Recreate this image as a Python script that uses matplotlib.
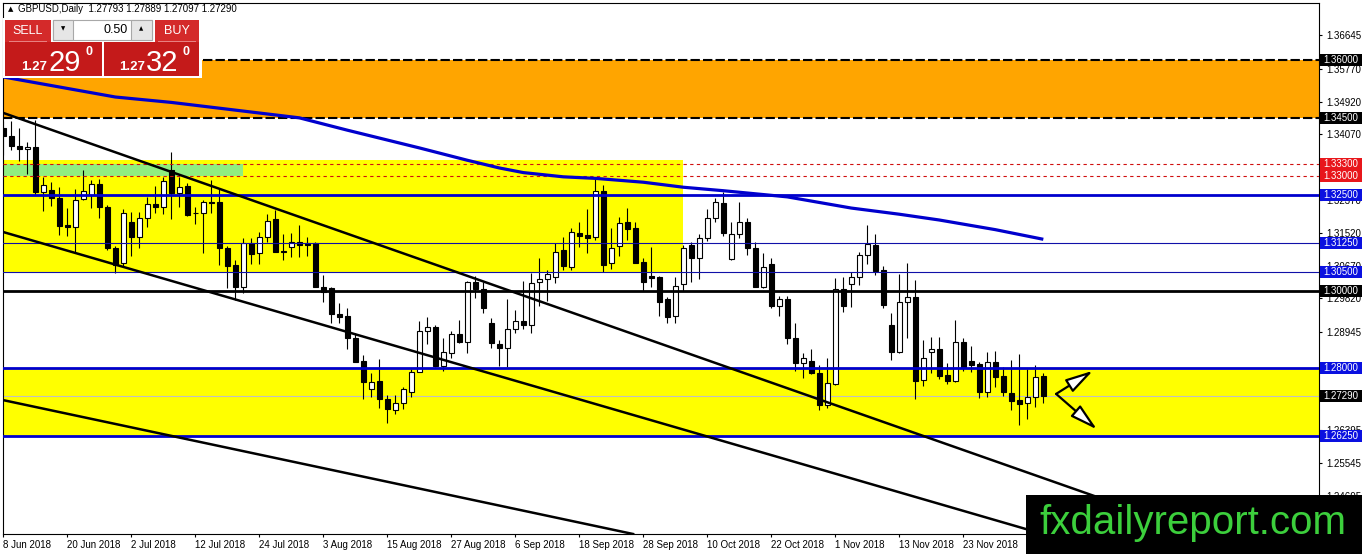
import matplotlib
matplotlib.use("Agg")
import matplotlib.pyplot as plt
import matplotlib.transforms as mtransforms
from matplotlib.patches import Rectangle, FancyArrowPatch

plt.rcParams['font.family'] = ['Liberation Sans', 'DejaVu Sans']

# ================== DATA ==================
OPEN = [1.3423, 1.3403, 1.3377, 1.3368, 1.3374, 1.3258, 1.3263, 1.3241, 1.3172, 1.3168,
        1.3239, 1.3250, 1.3278, 1.3220, 1.3112, 1.3073, 1.3181, 1.3140, 1.3189, 1.3226,
        1.3220, 1.3315, 1.3256, 1.3273, 1.3203, 1.3202, 1.3231, 1.3231, 1.3112, 1.3068,
        1.3011, 1.3125, 1.3099, 1.3140, 1.3187, 1.3105, 1.3114, 1.3129, 1.3125, 1.3126,
        1.3012, 1.3008, 1.2941, 1.2936, 1.2880, 1.2819, 1.2746, 1.2768, 1.2720, 1.2691,
        1.2710, 1.2740, 1.2792, 1.2897, 1.2907, 1.2807, 1.2839, 1.2889, 1.2869, 1.3025,
        1.3005, 1.2917, 1.2863, 1.2852, 1.2902, 1.2924, 1.2913, 1.3023, 1.3031, 1.3036,
        1.3107, 1.3064, 1.3151, 1.3146, 1.3142, 1.3261, 1.3073, 1.3118, 1.3179, 1.3164,
        1.3075, 1.3040, 1.3038, 1.2979, 1.2937, 1.3018, 1.3120, 1.3087, 1.3139, 1.3189,
        1.3228, 1.3083, 1.3148, 1.3179, 1.3112, 1.3012, 1.3070, 1.2962, 1.2979, 1.2878,
        1.2813, 1.2820, 1.2788, 1.2705, 1.2760, 1.3005, 1.3018, 1.3036, 1.3094, 1.3120,
        1.3055, 1.2913, 1.2842, 1.2972, 1.2985, 1.2770, 1.2842, 1.2850, 1.2783, 1.2768,
        1.2869, 1.2820, 1.2812, 1.2740, 1.2818, 1.2781, 1.2736, 1.2718, 1.2710, 1.2727,
        1.27793]
HIGH = [1.3443, 1.3443, 1.3423, 1.3388, 1.3444, 1.3296, 1.3284, 1.3270, 1.3215, 1.3265,
        1.3315, 1.3289, 1.3291, 1.3224, 1.3118, 1.3213, 1.3207, 1.3207, 1.3245, 1.3273,
        1.3296, 1.3361, 1.3297, 1.3280, 1.3220, 1.3237, 1.3289, 1.3265, 1.3118, 1.3080,
        1.3138, 1.3138, 1.3155, 1.3201, 1.3211, 1.3148, 1.3151, 1.3172, 1.3142, 1.3129,
        1.3042, 1.3011, 1.2971, 1.2956, 1.2893, 1.2835, 1.2787, 1.2824, 1.2731, 1.2731,
        1.2751, 1.2798, 1.2923, 1.2933, 1.2913, 1.2878, 1.2898, 1.2926, 1.3028, 1.3040,
        1.3025, 1.2930, 1.2874, 1.2980, 1.2952, 1.3027, 1.3047, 1.3086, 1.3055, 1.3125,
        1.3142, 1.3164, 1.3181, 1.3213, 1.3293, 1.3276, 1.3164, 1.3194, 1.3215, 1.3181,
        1.3086, 1.3114, 1.3040, 1.2986, 1.3038, 1.3120, 1.3129, 1.3149, 1.3213, 1.3241,
        1.3258, 1.3181, 1.3233, 1.3189, 1.3129, 1.3100, 1.3086, 1.2988, 1.2988, 1.2917,
        1.2839, 1.2850, 1.2809, 1.2826, 1.3034, 1.3038, 1.3051, 1.3103, 1.3172, 1.3149,
        1.3066, 1.2943, 1.3045, 1.3073, 1.3029, 1.2874, 1.2881, 1.2881, 1.2815, 1.2926,
        1.2878, 1.2859, 1.2818, 1.2843, 1.2846, 1.2805, 1.2822, 1.2837, 1.2798, 1.2809,
        1.27889]
LOW = [1.3354, 1.3367, 1.3339, 1.3304, 1.3250, 1.3209, 1.3221, 1.3146, 1.3144, 1.3103,
       1.3237, 1.3215, 1.3189, 1.3107, 1.3047, 1.3064, 1.3092, 1.3112, 1.3168, 1.3202,
       1.3200, 1.3187, 1.3220, 1.3195, 1.3175, 1.3100, 1.3202, 1.3068, 1.3008, 1.2978,
       1.2995, 1.3071, 1.3071, 1.3129, 1.3101, 1.3080, 1.3090, 1.3088, 1.3092, 1.3011,
       1.2973, 1.2917, 1.2919, 1.2851, 1.2816, 1.2720, 1.2727, 1.2697, 1.2658, 1.2682,
       1.2694, 1.2727, 1.2790, 1.2863, 1.2805, 1.2794, 1.2826, 1.2866, 1.2841, 1.2982,
       1.2943, 1.2852, 1.2807, 1.2805, 1.2893, 1.2902, 1.2893, 1.2962, 1.2976, 1.3022,
       1.3055, 1.3055, 1.3116, 1.3099, 1.3133, 1.3051, 1.3057, 1.3092, 1.3133, 1.3073,
       1.3002, 1.3011, 1.2937, 1.2919, 1.2917, 1.3002, 1.3025, 1.3031, 1.3131, 1.3179,
       1.3144, 1.3080, 1.3138, 1.3094, 1.3011, 1.3008, 1.2956, 1.2936, 1.2863, 1.2794,
       1.2775, 1.2786, 1.2692, 1.2697, 1.2757, 1.2947, 1.2960, 1.3016, 1.3070, 1.3042,
       1.2956, 1.2822, 1.2841, 1.2878, 1.2720, 1.2755, 1.2789, 1.2772, 1.2760, 1.2766,
       1.2794, 1.2792, 1.2723, 1.2727, 1.2751, 1.2729, 1.2692, 1.2653, 1.2669, 1.2701,
       1.27097]
CLOSE = [1.3403, 1.3378, 1.3368, 1.3374, 1.3258, 1.3276, 1.3241, 1.3170, 1.3168, 1.3237,
         1.3261, 1.3278, 1.3220, 1.3112, 1.3068, 1.3204, 1.3140, 1.3189, 1.3226, 1.3220,
         1.3286, 1.3256, 1.3271, 1.3198, 1.3202, 1.3231, 1.3228, 1.3112, 1.3067, 1.3011,
         1.3126, 1.3097, 1.3141, 1.3183, 1.3103, 1.3103, 1.3129, 1.3120, 1.3120, 1.3012,
         1.2999, 1.2940, 1.2934, 1.2878, 1.2818, 1.2766, 1.2766, 1.2720, 1.2694, 1.2710,
         1.2746, 1.2790, 1.2898, 1.2907, 1.2807, 1.2843, 1.2889, 1.2868, 1.3025, 1.3005,
         1.2956, 1.2867, 1.2852, 1.2902, 1.2924, 1.2913, 1.3022, 1.3031, 1.3044, 1.3103,
         1.3067, 1.3153, 1.3144, 1.3139, 1.3261, 1.3068, 1.3112, 1.3176, 1.3162, 1.3074,
         1.3025, 1.3035, 1.2973, 1.2934, 1.3015, 1.3112, 1.3087, 1.3139, 1.3189, 1.3233,
         1.3151, 1.3148, 1.3179, 1.3112, 1.3012, 1.3064, 1.2962, 1.2979, 1.2878, 1.2813,
         1.2826, 1.2788, 1.2705, 1.2762, 1.3005, 1.2962, 1.3036, 1.3094, 1.3123, 1.3054,
         1.2965, 1.2843, 1.2973, 1.2985, 1.2768, 1.2826, 1.2850, 1.2781, 1.2768, 1.2869,
         1.2805, 1.2809, 1.2740, 1.2818, 1.2779, 1.2740, 1.2716, 1.2709, 1.2727, 1.2777,
         1.27290]

# moving average (blue curve), sampled along the bars
MA_IDX = [0, 7, 14, 21, 29, 37, 43, 52, 58, 62, 65, 70, 74, 80, 85, 90, 98, 106, 112, 117, 124, 130]
MA_VAL = [1.3556, 1.3530, 1.3504, 1.3490, 1.3470, 1.3450, 1.3418, 1.3372, 1.3340, 1.3320, 1.3308,
          1.3297, 1.3293, 1.3283, 1.3270, 1.3261, 1.3245, 1.3216, 1.3200, 1.3185, 1.3160, 1.3135]

# trend lines, two anchor points each (bar, price)
TREND_A = [(-0.04, 1.3463), (-0.04, 1.3154), (-0.04, 1.2718)]
TREND_B = [(124.6, 1.2555), (124.6, 1.2403), (78.2, 1.2373)]

DATE_IDX = [0, 8, 16, 24, 32, 40, 48, 56, 64, 72, 80, 88, 96, 104, 112, 120]
DATE_LABELS = ["8 Jun 2018", "20 Jun 2018", "2 Jul 2018", "12 Jul 2018", "24 Jul 2018",
               "3 Aug 2018", "15 Aug 2018", "27 Aug 2018", "6 Sep 2018", "18 Sep 2018",
               "28 Sep 2018", "10 Oct 2018", "22 Oct 2018", "1 Nov 2018", "13 Nov 2018",
               "23 Nov 2018"]

# scale labels that are visible (fully hidden ones left out)
PRICE_TICKS = [1.36645, 1.35770, 1.34920, 1.34070, 1.32370, 1.31520, 1.30670,
               1.29820, 1.28945, 1.26395, 1.25545, 1.24695]

ZONE_TOP = (1.345, 1.360)
ZONE_MID = (1.305, 1.334, 85)      # low, high, last bar
ZONE_GREEN = (1.330, 1.333, 30)
ZONE_LOW = (1.2625, 1.280)

LABEL_PRICES = [1.36, 1.345, 1.333, 1.33, 1.325, 1.3125, 1.305, 1.30, 1.28, 1.2729, 1.2625]
LABEL_COLORS = ["black", "black", "#e8161b", "#e8161b", "#0a10e0", "#0a10e0", "#0a10e0",
                "black", "#0a10e0", "black", "#0a10e0"]

ARROW_START = (131.6, 1.2734)
ARROW_ENDS = [(136.2, 1.2794), (136.7, 1.2642)]

# ================== FIGURE ==================
W, H = 1362, 554
fig = plt.figure(figsize=(W / 100, H / 100), dpi=100)
fig.patch.set_facecolor("white")
L, R, T, B = 3, 1319, 3, 534
ax = fig.add_axes([L / W, 1 - B / H, (R - L) / W, (B - T) / H])
YMIN, YMAX = 1.23707, 1.37478
XMIN, XMAX = -0.04, 164.46
ax.set_xlim(XMIN, XMAX)
ax.set_ylim(YMIN, YMAX)
ax.set_facecolor("white")
for s in ax.spines.values():
    s.set_linewidth(0.8)
    s.set_color("black")

# zones
ax.axhspan(*ZONE_TOP, color="#ffa500", lw=0, zorder=0.5)
ax.add_patch(Rectangle((XMIN - 1, ZONE_MID[0]), ZONE_MID[2] - XMIN + 1, ZONE_MID[1] - ZONE_MID[0],
                       fc="#ffff00", ec="none", zorder=0.6))
ax.add_patch(Rectangle((XMIN - 1, ZONE_GREEN[0]), ZONE_GREEN[2] - XMIN + 1, ZONE_GREEN[1] - ZONE_GREEN[0],
                       fc="#90ee80", ec="none", zorder=0.7))
ax.axhspan(*ZONE_LOW, color="#ffff00", lw=0, zorder=0.5)

# candles
for i, (o, h, l, c) in enumerate(zip(OPEN, HIGH, LOW, CLOSE)):
    ax.vlines(i, l, h, color="black", lw=0.8, zorder=2)
    fc = "white" if c >= o else "black"
    ax.bar(i, max(abs(c - o), 0.00002), bottom=min(o, c), width=0.6, color=fc,
           edgecolor="black", linewidth=0.8, zorder=2.1)

# horizontal levels
ax.axhline(1.36, color="black", lw=1.5, ls=(0, (4.5, 1.5)), zorder=3)
ax.axhline(1.345, color="black", lw=1.5, ls=(0, (4.5, 1.5)), zorder=3)
ax.axhline(1.333, color="#d01010", lw=0.8, ls=(0, (3, 3)), zorder=3)
ax.axhline(1.330, color="#d01010", lw=0.8, ls=(0, (3, 3)), zorder=3)
ax.axhline(1.325, color="#0000cd", lw=2.0, zorder=3)
ax.axhline(1.3125, color="#1010a8", lw=0.8, zorder=3)
ax.axhline(1.305, color="#1010a8", lw=0.8, zorder=3)
ax.axhline(1.300, color="black", lw=2.0, zorder=3)
ax.axhline(1.280, color="#0000cd", lw=2.0, zorder=3)
ax.axhline(1.2625, color="#0000cd", lw=2.0, zorder=3)
ax.axhline(CLOSE[-1], color="#c0c0c0", lw=0.8, zorder=1.5)

# moving average
ax.plot(MA_IDX, MA_VAL, color="#0000cd", lw=2.3, zorder=3.5, solid_capstyle="butt")

# trend lines
for a, b in zip(TREND_A, TREND_B):
    ax.axline(a, b, color="black", lw=1.8, zorder=3.6)

# arrows
for end in ARROW_ENDS:
    ax.add_patch(FancyArrowPatch(ARROW_START, end,
                                 arrowstyle="-|>,head_length=1.2,head_width=0.32",
                                 mutation_scale=14, lw=1.6, ec="black", fc="white",
                                 shrinkA=0, shrinkB=0, zorder=4))

# axes ticks
ax.yaxis.tick_right()
ax.set_yticks(PRICE_TICKS)
ax.set_yticklabels([f"{p:.5f}" for p in PRICE_TICKS])
ax.tick_params(axis="y", direction="out", length=2.5, width=0.8, pad=3, labelsize=7,
               colors="black")
ax.set_xticks(DATE_IDX)
ax.set_xticklabels(DATE_LABELS)
ax.tick_params(axis="x", direction="out", length=2.5, width=0.8, pad=2, labelsize=7)
for t in ax.get_xticklabels():
    t.set_ha("left")

# coloured price labels on the right scale
trans = mtransforms.blended_transform_factory(ax.transAxes, ax.transData)
ax_w = R - L
unit = (B - T) / (YMAX - YMIN)
for p, col in zip(LABEL_PRICES, LABEL_COLORS):
    ax.add_patch(Rectangle((1 + 1 / ax_w, p - 6 / unit), 43 / ax_w, 12 / unit,
                           transform=trans, fc=col, ec="none", clip_on=False, zorder=6))
    ax.text(1 + 4 / ax_w, p, f"{p:.5f}", transform=trans, color="white", fontsize=7,
            va="center", ha="left", clip_on=False, zorder=7)


# ================== PANEL / OVERLAYS ==================
def frect(x, y, w, h, **kw):
    fig.add_artist(Rectangle((x / W, 1 - (y + h) / H), w / W, h / H,
                             transform=fig.transFigure, **kw))


def ftext(x, y, s, **kw):
    fig.text(x / W, 1 - y / H, s, **kw)


ftext(8, 9, "▲", fontsize=5, va="center", family=["DejaVu Sans"])
ftext(18, 9, "GBPUSD,Daily  1.27793 1.27889 1.27097 1.27290", fontsize=7, va="center")

frect(3, 18, 199, 60, fc="white", ec="none", zorder=10)
frect(5, 20, 46, 22, fc="#d42a2a", ec="none", zorder=11)
frect(155, 20, 44, 22, fc="#d42a2a", ec="none", zorder=11)
frect(53, 20, 99, 20, fc="white", ec="#a8a8a8", lw=0.8, zorder=11)
frect(53, 20, 20, 20, fc="#e6e6e6", ec="#a8a8a8", lw=0.8, zorder=11)
frect(131, 20, 21, 20, fc="#e6e6e6", ec="#a8a8a8", lw=0.8, zorder=11)
frect(5, 42, 97, 34, fc="#c41a1a", ec="none", zorder=11)
frect(104, 42, 95, 34, fc="#c41a1a", ec="none", zorder=11)
frect(9, 41, 38, 1, fc="#e88080", ec="none", zorder=12)
frect(158, 41, 38, 1, fc="#e88080", ec="none", zorder=12)

ftext(28, 31, "SELL", color="white", fontsize=9, ha="center", va="center", zorder=12)
ftext(177, 31, "BUY", color="white", fontsize=9, ha="center", va="center", zorder=12)
ftext(63, 29, "▼", fontsize=4, ha="center", va="center", family=["DejaVu Sans"], zorder=12)
ftext(141, 29, "▲", fontsize=4, ha="center", va="center", family=["DejaVu Sans"], zorder=12)
ftext(128, 30, "0.50", fontsize=9, ha="right", va="center", zorder=12)

for x0, big in [(21, "29"), (119, "32")]:
    ftext(x0, 70, "1.27", color="white", fontsize=9.5, fontweight="bold",
          va="baseline", zorder=12)
    ftext(x0 + 27, 71, big, color="white", fontsize=21, va="baseline", zorder=12)
    ftext(x0 + 64, 55, "0", color="white", fontsize=9, fontweight="bold",
          va="baseline", zorder=12)

frect(1026, 495, 336, 59, fc="black", ec="none", zorder=20)
ftext(1193, 523, "fxdailyreport.com", color="#3ccf3c", fontsize=29, ha="center",
      va="center", zorder=21)

fig.savefig("out.png", dpi=100)
